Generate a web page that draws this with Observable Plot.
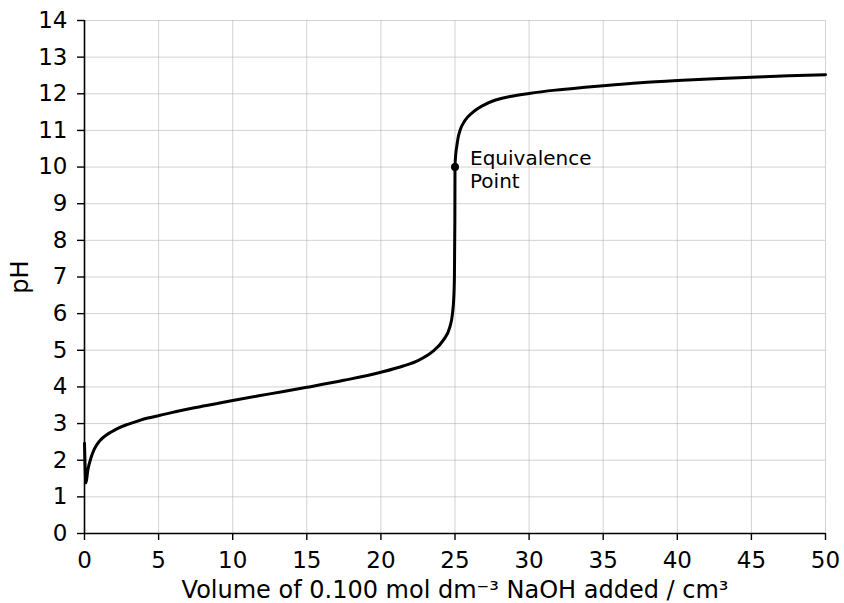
<!DOCTYPE html>
<html>
<head>
<meta charset="utf-8">
<script src="https://cdn.jsdelivr.net/npm/d3@7"></script>
<script src="https://cdn.jsdelivr.net/npm/@observablehq/plot@0.6"></script>
<style>
  html, body { margin: 0; padding: 0; background: #fff; }
  #chart svg { display: block; }
</style>
</head>
<body>
<div id="chart"></div>
<script>
// Titration curve readings (volume of NaOH in cm³, pH)
const volume = [0, 0.1, 0.22, 0.45, 0.67, 1.01, 1.35, 1.8, 2.25, 2.92, 3.6, 4.27, 5.05, 6.2, 7.5, 8.7, 10, 12.5, 15, 17.5, 20, 21.5, 22.5, 23.5, 24.2, 24.65, 24.83, 24.92, 24.96, 24.99, 25.0, 25.05, 25.11, 25.2, 25.34, 25.67, 26.16, 26.84, 27.73, 28.63, 30, 31.78, 33.58, 35, 37.5, 40, 42.5, 45, 47.5, 50];
const pH     = [2.46, 1.38, 1.72, 2.08, 2.31, 2.52, 2.65, 2.77, 2.87, 2.98, 3.07, 3.15, 3.22, 3.33, 3.44, 3.53, 3.63, 3.81, 3.99, 4.18, 4.4, 4.57, 4.72, 4.97, 5.27, 5.63, 6.0, 6.45, 7.0, 8.5, 10.0, 10.35, 10.54, 10.78, 11.0, 11.27, 11.48, 11.67, 11.83, 11.92, 12.01, 12.1, 12.17, 12.22, 12.3, 12.36, 12.41, 12.45, 12.49, 12.52];

const equivalenceVolume = [25];
const equivalencePH = [10];
const equivalenceLabel = ["Equivalence\nPoint"];

const xTicks = [0, 5, 10, 15, 20, 25, 30, 35, 40, 45, 50];
const yTicks = [0, 1, 2, 3, 4, 5, 6, 7, 8, 9, 10, 11, 12, 13, 14];

const xLabel = "Volume of 0.100 mol dm\u207B\u00B3 NaOH added / cm\u00B3";
const yLabel = "pH";

const curve = volume.map((v, i) => ({v, p: pH[i]}));
const eq = equivalenceVolume.map((v, i) => ({v, p: equivalencePH[i], t: equivalenceLabel[i]}));

const font = "DejaVu Sans";

const chart = Plot.plot({
  width: 844,
  height: 603,
  marginLeft: 84,
  marginRight: 19,
  marginTop: 20,
  marginBottom: 70,
  style: {fontFamily: font, background: "#fff", color: "#000"},
  x: {domain: [0, 50]},
  y: {domain: [0, 14]},
  marks: [
    Plot.gridX(xTicks, {stroke: "#b0b0b0", strokeOpacity: 0.7, strokeWidth: 0.8}),
    Plot.gridY(yTicks, {stroke: "#b0b0b0", strokeOpacity: 0.7, strokeWidth: 0.8}),
    Plot.axisX(xTicks, {tickSize: 7, tickPadding: 11, fontSize: 23, stroke: "#000", strokeWidth: 1.4, color: "#000",
      label: xLabel, labelAnchor: "center", labelArrow: "none", labelOffset: 64, tickFormat: d => String(d)}),
    Plot.axisY(yTicks, {tickSize: 7, tickPadding: 10, fontSize: 23, stroke: "#000", strokeWidth: 1.4, color: "#000",
      label: yLabel, labelAnchor: "center", labelArrow: "none", labelOffset: 74, tickFormat: d => String(d)}),
    Plot.ruleX([0], {stroke: "#000", strokeWidth: 1.6}),
    Plot.ruleY([0], {stroke: "#000", strokeWidth: 1.6}),
    Plot.line(curve, {x: "v", y: "p", stroke: "#000", strokeWidth: 3, curve: "monotone-x"}),
    Plot.dot(eq, {x: "v", y: "p", r: 4, fill: "#000"}),
    Plot.text(eq, {x: "v", y: "p", text: "t", textAnchor: "start", lineAnchor: "middle", dx: 15, dy: 2,
      fontSize: 20, fill: "#000", lineHeight: 1.15})
  ]
});

chart.querySelectorAll('[aria-label="x-axis label"] text, [aria-label="y-axis label"] text').forEach(t => t.setAttribute("font-size", 24));
document.getElementById("chart").appendChild(chart);
</script>
</body>
</html>
